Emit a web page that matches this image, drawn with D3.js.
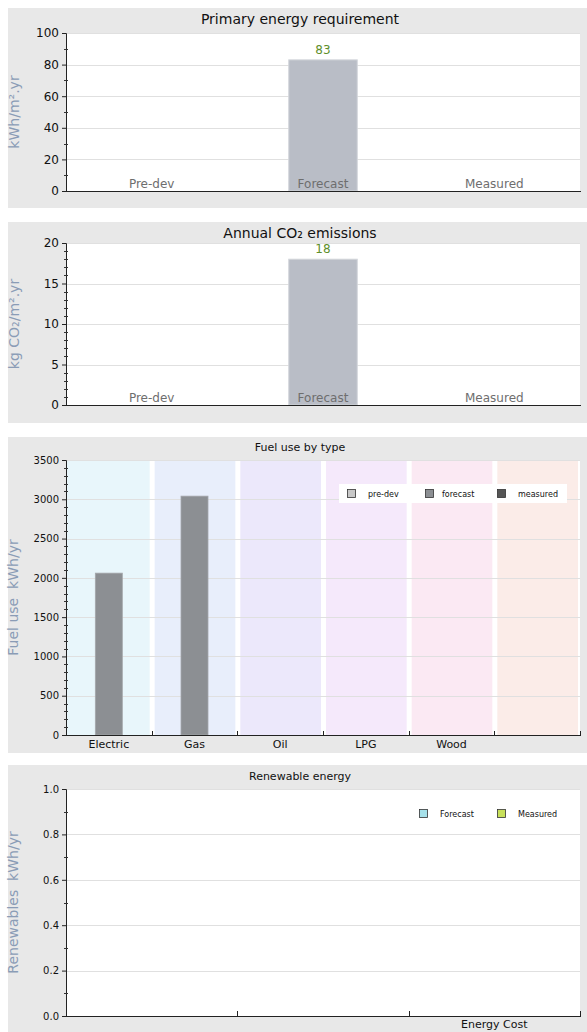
<!DOCTYPE html>
<html><head><meta charset="utf-8">
<script src="https://cdn.jsdelivr.net/npm/d3@7"></script>
<style>
body{margin:0;background:#fff;}
svg{display:block;font-family:"DejaVu Sans",sans-serif;}
text{white-space:pre;}
</style></head>
<body>
<svg id="c" width="587" height="1032"></svg>
<script>
// ---- data ----
const summaryCategories = ["Pre-dev", "Forecast", "Measured"];
const primaryEnergy = [null, 83, null];
const co2Emissions = [null, 18, null];
const primaryTicks = [0, 20, 40, 60, 80, 100];
const co2Ticks = [0, 5, 10, 15, 20];

const fuelCategories = ["Electric", "Gas", "Oil", "LPG", "Wood", "Other"];
const fuelLabels = ["Electric", "Gas", "Oil", "LPG", "Wood", ""];
const fuelSeries = ["pre-dev", "forecast", "measured"];
const fuelPreDev = [0, 0, 0, 0, 0, 0];
const fuelForecast = [2060, 3040, 0, 0, 0, 0];
const fuelMeasured = [0, 0, 0, 0, 0, 0];
const fuelTicks = [0, 500, 1000, 1500, 2000, 2500, 3000, 3500];

const renewCategories = ["r1", "r2", "Energy Cost"];
const renewLabels = ["", "", "Energy Cost"];
const renewSeries = ["Forecast", "Measured"];
const renewForecast = [0, 0, 0];
const renewMeasured = [0, 0, 0];
const renewTicks = [0, 0.2, 0.4, 0.6, 0.8, 1.0];

// ---- styles ----
const panelBg = "#e8e8e8";
const gridCol = "#e0e0e0";
const ylabCol = "#8a9cb6";
const fuelBandColors = ["#e8f6fb", "#e8eefb", "#ece8fb", "#f5e9fb", "#fbe9f3", "#fbece8"];
const fuelSeriesColors = ["#c8c8c8", "#8c8f93", "#555555"];
const renewSeriesColors = ["#a6e1ea", "#c8e05a"];

const svg = d3.select("#c");
const L = 66, R = 580;

function panelFrame(top, bottom, plotTop, plotBottom, title, titleY, titleSize, ylab, ylabX, ylabSize, yMax) {
  svg.append("rect").attr("x", 8).attr("y", top).attr("width", 579).attr("height", bottom - top).attr("fill", panelBg);
  svg.append("rect").attr("x", L).attr("y", plotTop).attr("width", R - L).attr("height", plotBottom - plotTop).attr("fill", "#fff");
  svg.append("text").attr("x", 300).attr("y", titleY).attr("text-anchor", "middle")
    .attr("font-size", titleSize).attr("fill", "#111").text(title);
  const y = d3.scaleLinear().domain([0, yMax]).range([plotBottom, plotTop]);
  svg.append("text").attr("transform", `translate(${ylabX},${(plotTop + plotBottom) / 2}) rotate(-90)`)
    .attr("text-anchor", "middle").attr("font-size", ylabSize).attr("fill", ylabCol)
    .attr("xml:space", "preserve").text(ylab);
  return y;
}

function gridDraw(y, ticks) {
  svg.append("g").selectAll("line").data(ticks.filter(t => t > 0)).join("line")
    .attr("x1", L).attr("x2", R).attr("y1", d => Math.round(y(d)) + 0.5).attr("y2", d => Math.round(y(d)) + 0.5)
    .attr("stroke", gridCol).attr("stroke-width", 1);
}

function yAxisFront(y, ticks, minorStep, tickFont, fmt) {
  const ax = d3.axisLeft(y).tickValues(ticks).tickSize(4).tickPadding(3).tickFormat(fmt);
  const g = svg.append("g").attr("transform", `translate(${L},0)`).call(ax);
  g.select(".domain").attr("stroke", "#222");
  g.selectAll(".tick line").attr("stroke", "#222");
  g.selectAll(".tick text").attr("font-size", tickFont).attr("fill", "#111").attr("font-family", "DejaVu Sans");
  const dom = y.domain();
  const minors = d3.range(dom[0], dom[1] + 1e-9, minorStep).filter(v => !ticks.some(t => Math.abs(t - v) < 1e-9));
  svg.append("g").selectAll("line").data(minors).join("line")
    .attr("x1", L - 2).attr("x2", L + 2).attr("y1", d => Math.round(y(d)) + 0.5).attr("y2", d => Math.round(y(d)) + 0.5)
    .attr("stroke", "#333").attr("stroke-width", 1);
}

// ---- summary panels ----
function summaryPanel(top, bottom, plotTop, plotBottom, title, titleY, ylab, values, ticks, minorStep, yMax) {
  const y = panelFrame(top, bottom, plotTop, plotBottom, title, titleY, 14, ylab, 19, 14, yMax);
  gridDraw(y, ticks);
  const x = d3.scaleBand().domain(summaryCategories).range([L, R]).padding(0);
  const bw = x.bandwidth() * 0.4;
  const data = summaryCategories.map((c, i) => ({c, v: values[i]}));
  svg.append("g").selectAll("rect").data(data.filter(d => d.v != null)).join("rect")
    .attr("x", d => x(d.c) + (x.bandwidth() - bw) / 2).attr("width", bw)
    .attr("y", d => y(d.v)).attr("height", d => y(0) - y(d.v))
    .attr("fill", "#b9bdc6").attr("stroke", "#d3d6db").attr("stroke-width", 1);
  svg.append("g").selectAll("text").data(data.filter(d => d.v != null)).join("text")
    .attr("x", d => x(d.c) + x.bandwidth() / 2).attr("y", d => y(d.v) - 6)
    .attr("text-anchor", "middle").attr("font-size", 12).attr("fill", "#5e8f2a").text(d => d.v);
  svg.append("g").selectAll("text").data(data).join("text")
    .attr("x", d => x(d.c) + x.bandwidth() / 2).attr("y", plotBottom - 3)
    .attr("text-anchor", "middle").attr("font-size", 12).attr("fill", "#6e6e6e").text(d => d.c);
  svg.append("line").attr("x1", L).attr("x2", R + 1).attr("y1", plotBottom + 0.5).attr("y2", plotBottom + 0.5).attr("stroke", "#222");
  yAxisFront(y, ticks, minorStep, 12, d3.format("d"));
}

summaryPanel(8, 208, 33, 191, "Primary energy requirement", 24, "kWh/m².yr", primaryEnergy, primaryTicks, 10, 100);
summaryPanel(222, 423, 243, 405, "Annual CO₂ emissions", 238, "kg CO₂/m².yr", co2Emissions, co2Ticks, 1, 20);

// ---- fuel panel ----
(function () {
  const top = 437, bottom = 753, pT = 460, pB = 735;
  const y = panelFrame(top, bottom, pT, pB, "Fuel use by type", 451, 11, "Fuel use  kWh/yr", 18, 14, 3500);
  const x0 = d3.scaleBand().domain(fuelCategories).range([L, R]).padding(0);
  svg.append("g").selectAll("rect").data(fuelCategories).join("rect")
    .attr("x", (d, i) => x0(d) + (i === 0 ? 1 : 3)).attr("width", (d, i) => x0.bandwidth() - (i === 0 ? 3 : 5))
    .attr("y", pT).attr("height", pB - pT).attr("fill", (d, i) => fuelBandColors[i]);
  gridDraw(y, fuelTicks);
  const x1 = d3.scaleBand().domain(fuelSeries).range([0, x0.bandwidth()]).paddingInner(0).paddingOuter(0.086);
  const seriesVals = [fuelPreDev, fuelForecast, fuelMeasured];
  const flat = [];
  fuelCategories.forEach((c, i) => fuelSeries.forEach((s, j) => flat.push({c, s, j, v: seriesVals[j][i]})));
  svg.append("g").selectAll("rect").data(flat.filter(d => d.v > 0)).join("rect")
    .attr("x", d => x0(d.c) + x1(d.s)).attr("width", x1.bandwidth())
    .attr("y", d => y(d.v)).attr("height", d => y(0) - y(d.v))
    .attr("fill", d => fuelSeriesColors[d.j]).attr("stroke", "#a4a7ab").attr("stroke-width", 0.8);
  svg.append("line").attr("x1", L).attr("x2", R + 1).attr("y1", pB + 0.5).attr("y2", pB + 0.5).attr("stroke", "#222");
  const bounds = fuelCategories.map(c => x0(c) + x0.bandwidth());
  svg.append("g").selectAll("line").data(bounds).join("line")
    .attr("x1", d => Math.round(d) + 0.5).attr("x2", d => Math.round(d) + 0.5).attr("y1", pB).attr("y2", pB - 4).attr("stroke", "#222");
  svg.append("g").selectAll("text").data(fuelCategories).join("text")
    .attr("x", d => x0(d) + x0.bandwidth() / 2).attr("y", 748).attr("text-anchor", "middle")
    .attr("font-size", 11).attr("fill", "#111").text((d, i) => fuelLabels[i]);
  yAxisFront(y, fuelTicks, 100, 10, d3.format("d"));
  const lg = svg.append("g");
  lg.append("rect").attr("x", 339).attr("y", 484).attr("width", 228).attr("height", 19).attr("fill", "#fff");
  const lx = [347, 425, 497], tx = [368, 442, 518];
  fuelSeries.forEach((s, j) => {
    lg.append("rect").attr("x", lx[j] + 0.5).attr("y", 489.5).attr("width", 8).attr("height", 8)
      .attr("fill", fuelSeriesColors[j]).attr("stroke", "#333").attr("stroke-width", 0.8);
    lg.append("text").attr("x", tx[j]).attr("y", 497).attr("font-size", 8).attr("fill", "#111").text(s);
  });
})();

// ---- renewable panel ----
(function () {
  const top = 765, bottom = 1032, pT = 789, pB = 1016;
  const y = panelFrame(top, bottom, pT, pB, "Renewable energy", 780, 11, "Renewables  kWh/yr", 18, 14, 1.0);
  gridDraw(y, renewTicks);
  const x0 = d3.scaleBand().domain(renewCategories).range([L, R]).padding(0);
  const x1 = d3.scaleBand().domain(renewSeries).range([0, x0.bandwidth()]).padding(0.2);
  const seriesVals = [renewForecast, renewMeasured];
  const flat = [];
  renewCategories.forEach((c, i) => renewSeries.forEach((s, j) => flat.push({c, s, j, v: seriesVals[j][i]})));
  svg.append("g").selectAll("rect").data(flat.filter(d => d.v > 0)).join("rect")
    .attr("x", d => x0(d.c) + x1(d.s)).attr("width", x1.bandwidth())
    .attr("y", d => y(d.v)).attr("height", d => y(0) - y(d.v))
    .attr("fill", d => renewSeriesColors[d.j]);
  svg.append("line").attr("x1", L).attr("x2", R + 1).attr("y1", pB + 0.5).attr("y2", pB + 0.5).attr("stroke", "#222");
  const bounds = renewCategories.map(c => x0(c) + x0.bandwidth());
  svg.append("g").selectAll("line").data(bounds).join("line")
    .attr("x1", d => Math.round(d) + 0.5).attr("x2", d => Math.round(d) + 0.5).attr("y1", pB).attr("y2", pB - 5).attr("stroke", "#222");
  svg.append("g").selectAll("text").data(renewCategories).join("text")
    .attr("x", d => x0(d) + x0.bandwidth() / 2).attr("y", 1028).attr("text-anchor", "middle")
    .attr("font-size", 11).attr("fill", "#111").text((d, i) => renewLabels[i]);
  yAxisFront(y, renewTicks, 0.1, 10, d3.format(".1f"));
  const lx = [419, 497], tx = [440, 518];
  renewSeries.forEach((s, j) => {
    svg.append("rect").attr("x", lx[j] + 0.5).attr("y", 809.5).attr("width", 8).attr("height", 8)
      .attr("fill", renewSeriesColors[j]).attr("stroke", "#333").attr("stroke-width", 0.8);
    svg.append("text").attr("x", tx[j]).attr("y", 817).attr("font-size", 8).attr("fill", "#111").text(s);
  });
})();
</script>
</body></html>
